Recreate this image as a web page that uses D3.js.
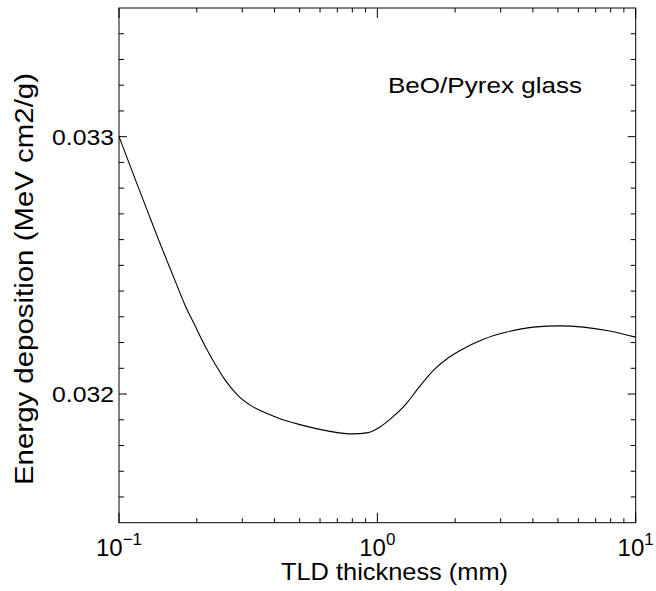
<!DOCTYPE html>
<html>
<head>
<meta charset="utf-8">
<script src="https://cdn.jsdelivr.net/npm/d3@7"></script>
<style>
  html, body { margin: 0; padding: 0; background: #fff; }
  svg { display: block; font-family: "Liberation Sans", Arial, Helvetica, sans-serif; }
</style>
</head>
<body>
<svg id="chart" width="656" height="591"></svg>
<script>
// ---- data ----
const thickness = [0.1, 0.1188, 0.1298, 0.142, 0.1552, 0.1673, 0.18, 0.197, 0.2153, 0.2354, 0.2573,
  0.2896, 0.3264, 0.3784, 0.42, 0.502, 0.656, 0.796, 0.923, 1.024, 1.153, 1.3, 1.421,
  1.648, 1.856, 2.09, 2.573, 3.17, 4.02, 5.1, 6.27, 7.73, 10];
const energy = [0.03300, 0.032803, 0.032703, 0.032602, 0.032505, 0.032424, 0.032346, 0.032265, 0.032187,
  0.032117, 0.032055, 0.031993, 0.031953, 0.031922, 0.031904, 0.031881, 0.031855, 0.031845,
  0.031850, 0.031872, 0.031913, 0.031965, 0.032015, 0.032092, 0.032136, 0.032169, 0.032213, 0.032241,
  0.03226, 0.032265, 0.03226, 0.032247, 0.032221];
const xMajorTicks = [0.1, 1, 10];
const xTickExponents = ["\u22121", "0", "1"];
const yMajorTicks = [0.032, 0.033];
const yTickLabels = ["0.032", "0.033"];
const xTitle = "TLD thickness (mm)";
const yTitle = "Energy deposition (MeV cm2/g)";
const annotation = "BeO/Pyrex glass";

// ---- layout ----
const L = 119, R = 635.7, T = 8, B = 522.7;
const svg = d3.select("#chart");

const x = d3.scaleLog().domain([0.1, 10]).range([L, R]);
const y = d3.scaleLinear().domain([0.0315, 0.0335]).range([B, T]);

// minor ticks
const xMinor = [];
for (let d = 0.1; d < 10; d *= 10) for (let k = 2; k <= 9; k++) xMinor.push(d * k);
const yMinor = d3.range(0, 21).map(i => +(0.0315 + i * 0.0001).toFixed(4))
  .filter(v => !yMajorTicks.some(m => Math.abs(m - v) < 1e-9) && v > 0.0315 && v < 0.0335);

const g = svg.append("g").attr("stroke", "#000").attr("stroke-width", 1).attr("fill", "none");

// x ticks bottom & top (inward)
function xTick(v, len) {
  const px = x(v);
  g.append("line").attr("x1", px).attr("x2", px).attr("y1", B).attr("y2", B - len);
  g.append("line").attr("x1", px).attr("x2", px).attr("y1", T).attr("y2", T + len);
}
xMinor.forEach(v => xTick(v, 4.5));
xMajorTicks.forEach(v => xTick(v, 10));

function yTick(v, len) {
  const py = y(v);
  g.append("line").attr("x1", L).attr("x2", L + len).attr("y1", py).attr("y2", py);
  g.append("line").attr("x1", R).attr("x2", R - len).attr("y1", py).attr("y2", py);
}
yMinor.forEach(v => yTick(v, 5));
yMajorTicks.forEach(v => yTick(v, 8));

// frame
g.append("rect").attr("x", L).attr("y", T).attr("width", R - L).attr("height", B - T);

// curve
const line = d3.line()
  .x((d, i) => x(thickness[i]))
  .y(d => y(d))
  .curve(d3.curveMonotoneX);
svg.append("path")
  .datum(energy)
  .attr("d", line)
  .attr("fill", "none")
  .attr("stroke", "#000")
  .attr("stroke-width", 1.1);

// x tick labels (10^n)
xMajorTicks.forEach((v, i) => {
  const t = svg.append("text")
    .attr("x", x(v))
    .attr("y", 556)
    .attr("text-anchor", "middle")
    .attr("font-size", 24)
    .attr("fill", "#000");
  t.append("tspan").text("10");
  t.append("tspan").attr("dy", -11).attr("font-size", 17).text(xTickExponents[i]);
});

// y tick labels
yMajorTicks.forEach((v, i) => {
  svg.append("text")
    .attr("x", 114)
    .attr("y", y(v) + 8)
    .attr("text-anchor", "end")
    .attr("font-size", 22.5)
    .attr("textLength", 62)
    .attr("lengthAdjust", "spacingAndGlyphs")
    .attr("fill", "#000")
    .text(yTickLabels[i]);
});

// axis titles
svg.append("text")
  .attr("x", 281)
  .attr("y", 579.5)
  .attr("font-size", 24)
  .attr("textLength", 227)
  .attr("lengthAdjust", "spacingAndGlyphs")
  .attr("fill", "#000")
  .text(xTitle);

svg.append("text")
  .attr("transform", "translate(33,485) rotate(-90)")
  .attr("x", 0)
  .attr("y", 0)
  .attr("font-size", 25)
  .attr("textLength", 412)
  .attr("lengthAdjust", "spacingAndGlyphs")
  .attr("fill", "#000")
  .text(yTitle);

// annotation
svg.append("text")
  .attr("x", 388)
  .attr("y", 93)
  .attr("font-size", 22.5)
  .attr("textLength", 194)
  .attr("lengthAdjust", "spacingAndGlyphs")
  .attr("fill", "#000")
  .text(annotation);
</script>
</body>
</html>
